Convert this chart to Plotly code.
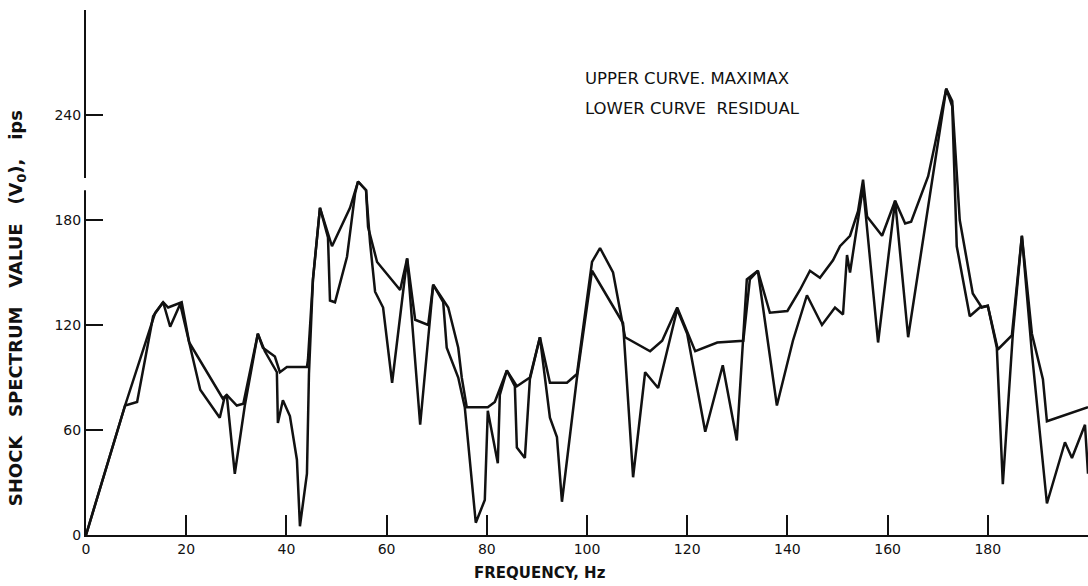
import plotly.graph_objects as go

# Upper curve: maximax shock spectrum (Hz, ips)
upper_hz = [0, 4, 7.8, 13.8, 15.4, 16.4, 19.1, 20.6, 27.3, 28.1, 30.1, 31.4, 34.3, 35.3, 37.7,
            38.7, 40.1, 44.1, 44.3, 45.3, 46.7, 49.1, 52.7, 54.3, 55.9, 56.3, 58.1, 62.7, 64.1,
            65.7, 68.3, 69.3, 72.3, 74.3, 75.0, 76.0, 80.2, 81.6, 84.0, 86.0, 88.6, 90.6, 92.6,
            96.0, 98.0, 101.0, 102.6, 105.2, 107.6, 112.6, 115.0, 118.0, 121.6, 126.0, 131.2,
            132.5, 134.1, 136.5, 140.0, 142.5, 144.5, 146.5, 149.1, 150.5, 152.5, 154.1, 155.1,
            155.9, 158.9, 161.5, 163.5, 164.7, 168.1, 169.5, 171.7, 172.9, 174.4, 177.0, 178.8,
            180.0, 182.0, 184.8, 186.8, 188.8, 191.0, 191.8, 200.0]
upper_v = [0, 38, 74, 127, 133, 130, 133, 110, 78, 80, 74, 75, 115, 107, 102,
           93, 96, 96, 100, 146, 187, 165, 187, 202, 197, 176, 156, 140, 158,
           123, 120, 143, 130, 107, 90, 73, 73, 76, 94, 85, 90, 113, 87,
           87, 92, 156, 164, 150, 113, 105, 111, 130, 105, 110, 111,
           146, 151, 127, 128, 140, 151, 147, 157, 165, 171, 185, 203,
           182, 171, 191, 178, 179, 205, 224, 255, 248, 180, 138, 130,
           131, 106, 114, 171, 115, 89, 65, 73]

# Lower curve: residual shock spectrum (Hz, ips)
lower_hz = [0, 4, 7.8, 10.2, 13.4, 15.4, 16.8, 18.8, 20.6, 22.8, 26.7, 27.6, 28.1, 29.7, 31.7,
            34.3, 35.7, 38.1, 38.3, 39.3, 40.7, 42.1, 42.7, 44.1, 44.5, 45.3, 46.7, 48.3, 48.7,
            49.7, 52.1, 53.7, 54.3, 55.9, 56.7, 57.7, 59.3, 61.1, 64.1, 66.7, 69.3, 71.3, 72.0,
            74.3, 75.6, 77.8, 79.6, 80.2, 82.2, 82.6, 84.0, 85.6, 86.0, 87.6, 88.6, 90.6, 92.6,
            94.0, 95.0, 98.0, 101.0, 107.2, 109.2, 111.6, 114.2, 118.0, 120.0, 123.6, 127.1,
            129.9, 131.9, 134.1, 137.9, 141.1, 143.9, 146.9, 149.5, 151.1, 151.9, 152.5, 155.1,
            158.1, 161.5, 164.1, 171.7, 172.9, 173.8, 176.4, 178.4, 180.0, 181.8, 183.0, 185.0,
            186.8, 188.8, 191.8, 195.4, 196.8, 199.4, 200.0]
lower_v = [0, 38, 74, 76, 125, 133, 119, 132, 110, 83, 67, 78, 80, 35, 74,
           115, 105, 93, 64, 77, 68, 43, 5, 35, 92, 146, 187, 170, 134,
           133, 159, 195, 202, 197, 167, 139, 130, 87, 158, 63, 143, 133, 107,
           90, 73, 7, 20, 71, 41, 80, 94, 85, 50, 44, 89, 113, 67,
           56, 19, 90, 151, 121, 33, 93, 84, 129, 115, 59, 97,
           54, 146, 151, 74, 111, 137, 120, 130, 126, 160, 150, 199,
           110, 191, 113, 255, 245, 165, 125, 130, 131, 107, 29, 115,
           171, 104, 18, 53, 44, 63, 35]

x_ticks = [0, 20, 40, 60, 80, 100, 120, 140, 160, 180]
y_ticks = [0, 60, 120, 180, 240]

ink = "#111111"
fnt = "DejaVu Sans"

fig = go.Figure()
fig.add_trace(go.Scatter(x=upper_hz, y=upper_v, mode="lines", name="Maximax",
                         line=dict(color=ink, width=2.5), showlegend=False))
fig.add_trace(go.Scatter(x=lower_hz, y=lower_v, mode="lines", name="Residual",
                         line=dict(color=ink, width=2.5), showlegend=False))

fig.update_layout(
    width=1088, height=586,
    margin=dict(l=86, r=0, t=10, b=51),
    paper_bgcolor="white", plot_bgcolor="white",
    font=dict(family=fnt, color=ink, size=14),
    xaxis=dict(range=[0, 200], tickvals=x_ticks, ticktext=[str(v) for v in x_ticks],
               showline=True, linecolor=ink, linewidth=2, showgrid=False, zeroline=False,
               ticks="inside", ticklen=20, tickwidth=2, tickcolor=ink,
               tickfont=dict(family=fnt, size=14, color=ink)),
    yaxis=dict(range=[0, 300], tickvals=y_ticks, ticktext=[str(v) for v in y_ticks],
               showline=True, linecolor=ink, linewidth=2, showgrid=False, zeroline=False,
               ticks="inside", ticklen=17, tickwidth=2, tickcolor=ink,
               tickfont=dict(family=fnt, size=14, color=ink)),
    shapes=[dict(type="rect", xref="paper", yref="y", x0=-0.004, x1=0.004, y0=197, y1=204,
                 fillcolor="white", line=dict(width=0), layer="above")],
    annotations=[
        dict(text="SHOCK   SPECTRUM   VALUE   (V<sub>0</sub>),   ips", xref="paper", yref="paper",
             x=0, xshift=-69, y=0.432, textangle=-90, showarrow=False,
             xanchor="center", yanchor="middle",
             font=dict(family=fnt, size=18, color=ink, weight="bold")),
        dict(text="FREQUENCY, Hz", xref="paper", yref="paper",
             x=0.453, y=-0.0724, showarrow=False, xanchor="center", yanchor="middle",
             font=dict(family=fnt, size=15, color=ink, weight="bold")),
        dict(text="UPPER CURVE. MAXIMAX", xref="paper", yref="paper",
             x=0.496, y=0.870, showarrow=False, xanchor="left", yanchor="middle",
             font=dict(family=fnt, size=16.5, color=ink)),
        dict(text="LOWER CURVE  RESIDUAL", xref="paper", yref="paper",
             x=0.496, y=0.813, showarrow=False, xanchor="left", yanchor="middle",
             font=dict(family=fnt, size=16.5, color=ink)),
    ],
)

fig.write_html("out.html", config={"displayModeBar": False},
               post_script="document.body.style.margin='0';document.body.style.padding='0';"
                           "document.body.style.overflow='hidden';")
